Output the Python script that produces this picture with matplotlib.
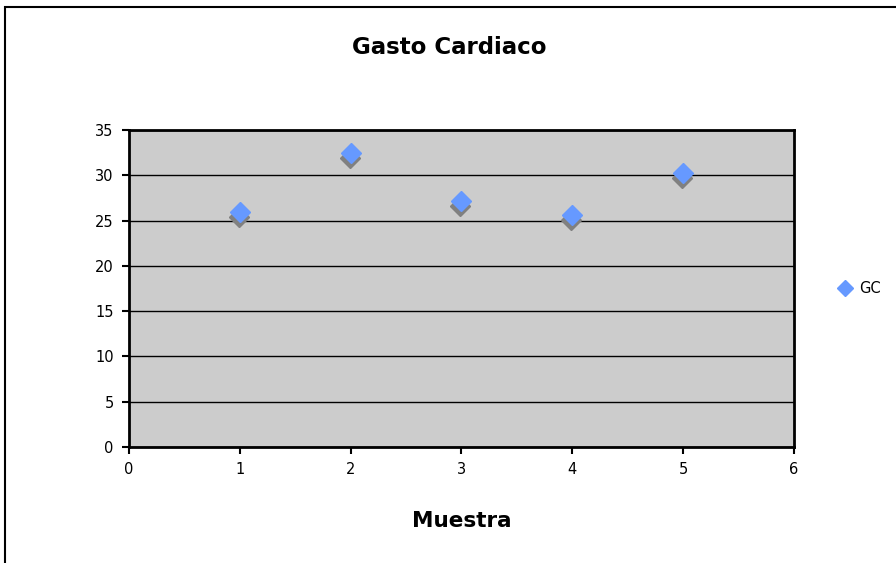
import matplotlib
matplotlib.use("Agg")
import matplotlib.pyplot as plt
import matplotlib.transforms as mtransforms
from matplotlib.patches import Rectangle

muestra = [1, 2, 3, 4, 5]
gc = [26.0, 32.5, 27.2, 25.6, 30.3]

plt.rcParams['font.family'] = ['DejaVu Sans']

fig = plt.figure(figsize=(8.96, 5.63), dpi=100)
ax = fig.add_axes([0.144, 0.206, 0.742, 0.563])
ax.set_facecolor('#cccccc')

# shadow under the markers
shadow = mtransforms.offset_copy(ax.transData, fig=fig, x=-1, y=-5, units='dots')
ax.plot(muestra, gc, linestyle='none', marker='D', markersize=10.5,
        color='#808080', transform=shadow, zorder=3)
ax.plot(muestra, gc, linestyle='none', marker='D', markersize=10.5,
        color='#6699ff', label='GC', zorder=4)

ax.set_xlim(0, 6)
ax.set_ylim(0, 35)
ax.set_xticks(range(0, 7))
ax.set_yticks(range(0, 36, 5))
ax.yaxis.grid(True, color='black', linewidth=1)
ax.set_axisbelow(True)
for s in ax.spines.values():
    s.set_linewidth(2)
ax.tick_params(direction='out', length=5, width=1.5, labelsize=10.5, pad=6)

fig.text(449 / 896, 1 - 48 / 563, 'Gasto Cardiaco', fontsize=16.5,
         fontweight='bold', ha='center', va='center')
ax.set_xlabel('Muestra', fontsize=15.5, fontweight='bold', labelpad=24)

fig.legend(loc='center left', bbox_to_anchor=(0.912, 0.488), frameon=False,
           fontsize=10.5, handletextpad=0.0, markerscale=0.75)

# outer chart border
fig.patches.append(Rectangle((5 / 896, -0.05), 1.1, 1 - 7 / 563 + 0.05,
                             transform=fig.transFigure, fill=False,
                             edgecolor='black', linewidth=1.5))

fig.savefig('out.png', dpi=100)
